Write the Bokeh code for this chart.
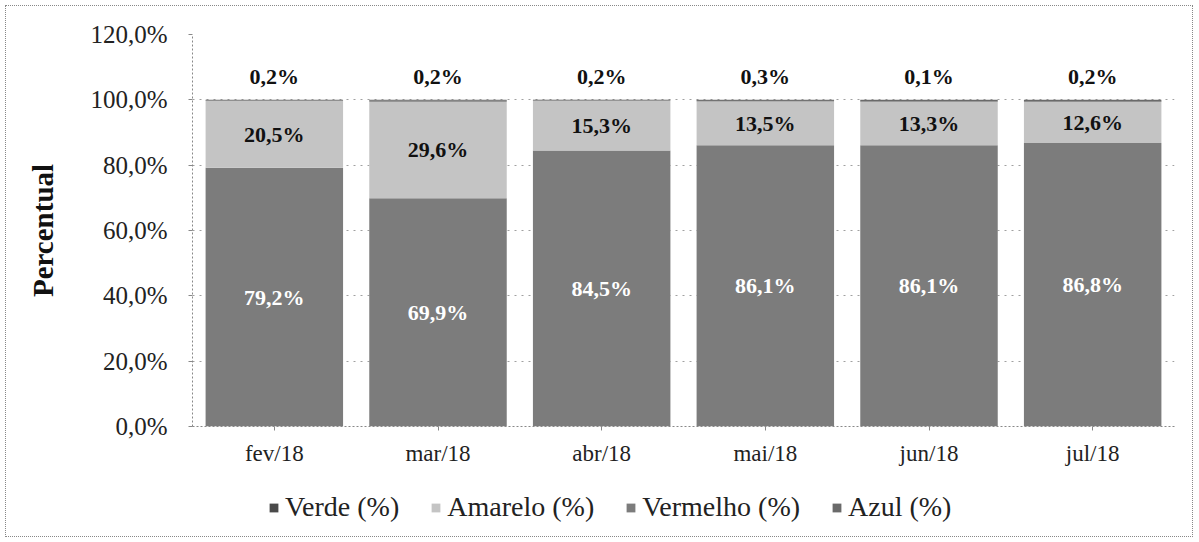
from bokeh.plotting import figure
from bokeh.layouts import column
from bokeh.models import (FactorRange, FixedTicker, Legend, LegendItem, ColumnDataSource, Range1d)
from bokeh.core.properties import value
from bokeh.embed import file_html
from bokeh.resources import INLINE

months = ["fev/18", "mar/18", "abr/18", "mai/18", "jun/18", "jul/18"]
vermelho = [79.2, 69.9, 84.5, 86.1, 86.1, 86.8]
amarelo = [20.5, 29.6, 15.3, 13.5, 13.3, 12.6]
verde = [0.2, 0.2, 0.2, 0.3, 0.1, 0.2]
azul = [0.1, 0.3, 0.0, 0.1, 0.5, 0.4]
y_ticks = [0, 20, 40, 60, 80, 100, 120]

FONT = "Liberation Serif"

def pct(v):
    return f"{v:.1f}%".replace(".", ",")

data = dict(month=months, vermelho=vermelho, amarelo=amarelo, verde=verde, azul=azul)
src = ColumnDataSource(data)

p = figure(x_range=FactorRange(*months, range_padding=0), y_range=(0, 120),
           width=1186, height=470, output_backend="svg", toolbar_location=None,
           min_border_left=186, min_border_right=18, min_border_top=28, min_border_bottom=50)
p.outline_line_color = None

stack = ["vermelho", "amarelo", "verde", "azul"]
colors = ["#7c7c7c", "#c4c4c4", "#4a4a4a", "#6a6a6a"]
rends = p.vbar_stack(stack, x="month", width=0.84, color=colors, source=src, line_color=None)

lbl = dict(
    month=months,
    y_verm=[v / 2 for v in vermelho],
    t_verm=[pct(v) for v in vermelho],
    y_am=[v + a / 2 for v, a in zip(vermelho, amarelo)],
    t_am=[pct(a) for a in amarelo],
    y_top=[107.2] * len(months),
    t_top=[pct(g) for g in verde],
)
lsrc = ColumnDataSource(lbl)
common = dict(text_font=value(FONT), text_font_size="22px", text_font_style="bold",
              text_align="center", text_baseline="middle", source=lsrc)
p.text(x="month", y="y_verm", text="t_verm", text_color="white", **common)
p.text(x="month", y="y_am", text="t_am", text_color="#111111", **common)
p.text(x="month", y="y_top", text="t_top", text_color="#111111", **common)

p.yaxis.ticker = FixedTicker(ticks=y_ticks)
p.yaxis.major_label_overrides = {t: pct(t) for t in y_ticks}
for ax in (p.xaxis[0], p.yaxis[0]):
    ax.axis_line_color = "#888888"
    ax.axis_line_dash = "2 2"
    ax.major_tick_line_color = "#888888"
    ax.major_tick_out = 4
    ax.major_tick_in = 0
    ax.minor_tick_line_color = None
    ax.major_label_text_font = FONT
    ax.major_label_text_color = "#222222"
p.xaxis.major_label_text_font_size = "23px"
p.yaxis.major_label_text_font_size = "25px"
p.xaxis.major_label_standoff = 10
p.yaxis.major_label_standoff = 21
p.yaxis.axis_label = "Percentual"
p.yaxis.axis_label_text_font = FONT
p.yaxis.axis_label_text_font_size = "29px"
p.yaxis.axis_label_text_font_style = "bold"
p.yaxis.axis_label_text_color = "#111111"
p.yaxis.axis_label_standoff = 28

p.xgrid.grid_line_color = None
p.ygrid.grid_line_color = "#a0a0a0"
p.ygrid.grid_line_dash = "2 5"

# legend figure (frame aligned with the main plot by the column layout)
p2 = figure(x_range=FactorRange(*months, range_padding=0), y_range=Range1d(500, 600),
            width=1186, height=60, output_backend="svg", toolbar_location=None,
            x_axis_type=None, y_axis_type=None, min_border=0)
p2.outline_line_color = None
p2.xgrid.grid_line_color = None
p2.ygrid.grid_line_color = None
names = ["Verde (%)", "Amarelo (%)", "Vermelho (%)", "Azul (%)"]
cmap = dict(zip(stack, colors))
items = []
for n, k in zip(names, ["verde", "amarelo", "vermelho", "azul"]):
    r = p2.vbar(x="month", top=k, width=0.84, color=cmap[k], line_color=None, source=src)
    items.append(LegendItem(label=n, renderers=[r]))
legend = Legend(items=items, orientation="horizontal", location=(76, 13),
                label_text_font=FONT, label_text_font_size="28px", label_text_color="#222222",
                glyph_width=11, glyph_height=11, label_standoff=6, spacing=31,
                padding=0, margin=0, border_line_color=None, background_fill_alpha=0)
p2.add_layout(legend, "center")

lay = column(p, p2, spacing=0)
lay.styles = {"border": "1px dotted #888", "margin": "5px 0 0 5px"}

open("out.html", "w").write(file_html(lay, INLINE))
